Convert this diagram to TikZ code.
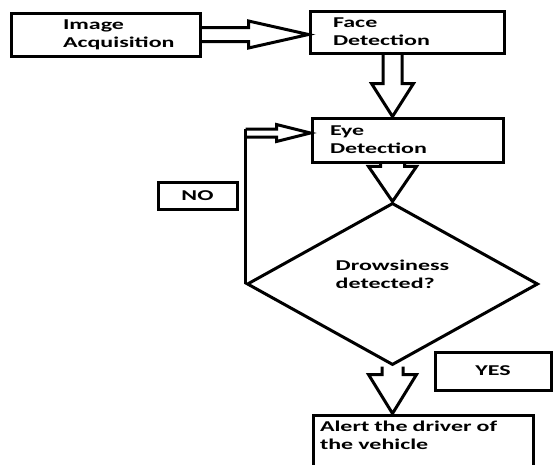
\documentclass[tikz,border=0pt]{standalone}
\usepackage{fontspec}
\newfontfamily\chartfont{Carlito}[FakeStretch=1.6]
\usetikzlibrary{calc,positioning,shapes.geometric}
\tikzset{
  stepbox/.style={draw=black,line width=3pt,inner sep=0pt,align=left,
    font=\chartfont\bfseries\fontsize{15}{18}\selectfont},
  indent/.style={execute at begin node={\leftskip=#1\relax}},
  answer/.style={draw=black,line width=3pt,inner sep=0pt,align=center,
    font=\chartfont\bfseries\fontsize{15}{18}\selectfont},
  decision/.style={diamond,draw=black,line width=3pt,inner sep=0pt,align=left,
    minimum width=291pt,minimum height=98pt,
    font=\chartfont\bfseries\fontsize{15}{18}\selectfont},
  loopline/.style={draw=black,line width=3pt},
  fatright/.style n args={3}{draw=black,line width=3pt,to path={
    let \p1=(\tikztostart), \p2=(\tikztotarget) in
    (\x1,\y1+#1) -- (\x2-#3,\y1+#1) -- (\x2-#3,\y1+#2) -- (\x2,\y1)
    -- (\x2-#3,\y1-#2) -- (\x2-#3,\y1-#1) -- (\x1,\y1-#1)}},
  fatdown/.style n args={3}{draw=black,line width=3pt,to path={
    let \p1=(\tikztostart), \p2=(\tikztotarget) in
    (\x1-#1,\y1) -- (\x1-#1,\y2+#3) -- (\x1-#2,\y2+#3) -- (\x1,\y2)
    -- (\x1+#2,\y2+#3) -- (\x1+#1,\y2+#3) -- (\x1+#1,\y1)}}
}

\begin{document}
\begin{tikzpicture}[x=1pt,y=1pt]
  \useasboundingbox (0,0) rectangle (553,-464);
  \fill[white] (0,0) rectangle (553,-464);
  \clip (0,0) rectangle (553,-464);

  % boxes
  \node[stepbox,indent=52pt,text width=189pt,minimum height=43pt] (img) at (105.5,-34.5) {Image\\Acquisition};
  \node[stepbox,indent=23pt,text width=194pt,minimum height=42pt] (face) at (407,-32) {Face\\Detection};
  \node[stepbox,indent=18pt,text width=191pt,minimum height=44pt] (eye) at (407.5,-140) {Eye\\Detection};
  \node[decision,text depth=20pt] (dec) at (392.5,-284) {Drowsiness\\detected?};
  \node[stepbox,indent=7pt,text width=220pt,minimum height=56pt,text depth=33pt] (alert) at (423,-443) {Alert the driver of\\the vehicle};
  \node[answer,minimum width=79pt,minimum height=27pt] (no) at (197.5,-195.5) {NO};
  \node[answer,minimum width=116pt,minimum height=38pt] (yes) at (493,-371) {YES};

  % block arrows
  \draw[fatright={7pt}{13.5pt}{60pt}] (img.east) to (face.west);
  \draw[fatdown={9.5pt}{21pt}{33pt}] (face.south -| dec.north) to (eye.north -| dec.north);
  \draw[fatdown={12pt}{24pt}{35pt}] (eye.south -| dec.north) to (dec.north);
  \draw[fatdown={10.5pt}{24pt}{39pt}] (dec.south) to (alert.north -| dec.south);

  % back to eye detection
  \coordinate (back) at ($(dec.west |- eye.west)+(0,7)$);
  \draw[loopline] (dec.west) -- ([yshift=4pt]back);
  \draw[fatright={4pt}{8.5pt}{34pt}] (back) to (eye.west |- back);
\end{tikzpicture}
\end{document}
